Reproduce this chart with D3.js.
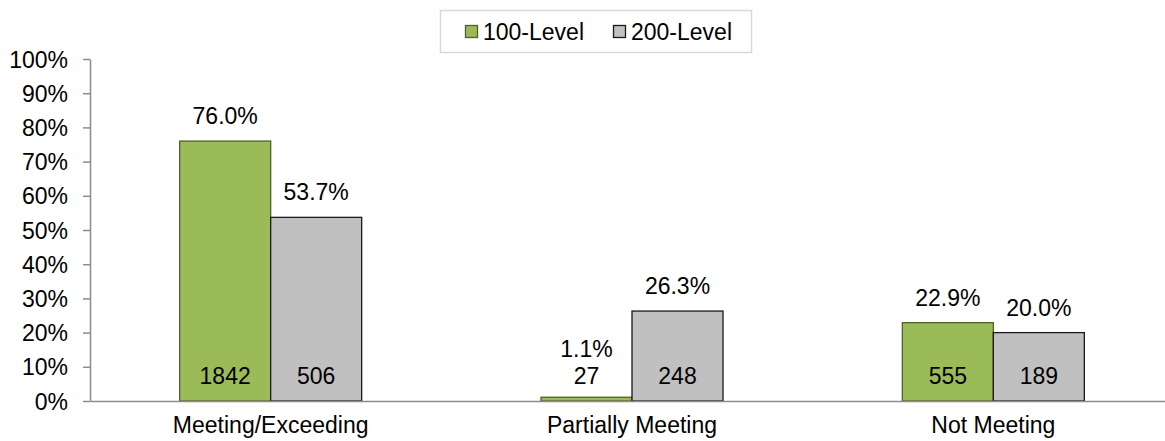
<!DOCTYPE html>
<html>
<head>
<meta charset="utf-8">
<script src="https://cdn.jsdelivr.net/npm/d3@7"></script>
<style>
  html, body { margin: 0; padding: 0; background: #fff; }
  svg text { font-family: "Liberation Sans", Arial, sans-serif; fill: #000; }
</style>
</head>
<body>
<svg id="chart" width="1165" height="441"></svg>
<script>
// Outcome categories and the two course levels
const categories = ["Meeting/Exceeding", "Partially Meeting", "Not Meeting"];
const seriesNames = ["100-Level", "200-Level"];
// Share of students (%) per category
const level100Pct = [76.0, 1.1, 22.9];
const level200Pct = [53.7, 26.3, 20.0];
// Student counts per category
const level100Count = [1842, 27, 555];
const level200Count = [506, 248, 189];
const yTicks = [0, 10, 20, 30, 40, 50, 60, 70, 80, 90, 100];

const fills = ["#9bbb59", "#c0c0c0"];
const strokes = ["#4f6228", "#1a1a1a"];

const svg = d3.select("#chart");
const plotLeft = 90, plotRight = 1174, plotTop = 59, plotBottom = 401;

const x = d3.scaleBand().domain(categories).range([plotLeft, plotRight]).padding(0);
const y = d3.scaleLinear().domain([0, 100]).range([plotBottom, plotTop]);

const rows = categories.map((c, i) => ({
  cat: c,
  items: [
    { s: seriesNames[0], pct: level100Pct[i], n: level100Count[i], k: 0 },
    { s: seriesNames[1], pct: level200Pct[i], n: level200Count[i], k: 1 }
  ]
}));

// Bars with value and count labels
const groups = svg.selectAll("g.cat").data(rows).join("g")
  .attr("class", "cat")
  .attr("transform", d => `translate(${x(d.cat)},0)`);

const barW = 91;
const offset = (x.bandwidth() - 2 * barW) / 2;
const bx = d => offset + d.k * barW;

groups.selectAll("rect").data(d => d.items).join("rect")
  .attr("x", d => bx(d))
  .attr("y", d => y(d.pct))
  .attr("width", barW)
  .attr("height", d => y(0) - y(d.pct))
  .attr("fill", d => fills[d.k])
  .attr("stroke", d => strokes[d.k])
  .attr("stroke-width", 1.3);

const countBase = plotBottom - 17;
groups.selectAll("text.count").data(d => d.items).join("text")
  .attr("class", "count")
  .attr("x", d => bx(d) + barW / 2)
  .attr("y", countBase)
  .attr("text-anchor", "middle")
  .attr("font-size", 23)
  .text(d => d.n);

groups.selectAll("text.pct").data(d => d.items).join("text")
  .attr("class", "pct")
  .attr("x", d => bx(d) + barW / 2)
  .attr("y", d => Math.min(y(d.pct) - 17, countBase - 27))
  .attr("text-anchor", "middle")
  .attr("font-size", 23)
  .text(d => d.pct.toFixed(1) + "%");

// Y axis
const yAxis = svg.append("g")
  .attr("transform", `translate(${plotLeft},0)`)
  .call(d3.axisLeft(y).tickValues(yTicks).tickFormat(d => d + "%").tickSize(7).tickSizeOuter(0));
yAxis.select(".domain").attr("stroke", "#8c8c8c").attr("stroke-width", 1.5);
yAxis.selectAll(".tick line").attr("stroke", "#8c8c8c").attr("stroke-width", 1.5);
yAxis.selectAll(".tick text")
  .attr("x", -22)
  .attr("dy", "0.35em")
  .attr("font-size", 23)
  .attr("font-family", "Liberation Sans, Arial, sans-serif")
  .attr("fill", "#000");

// X axis
const xAxis = svg.append("g")
  .attr("transform", `translate(0,${plotBottom})`)
  .call(d3.axisBottom(x).tickSize(0).tickSizeOuter(0));
xAxis.select(".domain").attr("stroke", "#8c8c8c").attr("stroke-width", 1.5);
xAxis.selectAll(".tick text")
  .attr("y", 32)
  .attr("dy", 0)
  .attr("font-size", 23)
  .attr("font-family", "Liberation Sans, Arial, sans-serif")
  .attr("fill", "#000");

// Legend
const legend = svg.append("g");
legend.append("rect")
  .attr("x", 440.5).attr("y", 10.5).attr("width", 311).attr("height", 42)
  .attr("fill", "#fff").attr("stroke", "#d9d9d9").attr("stroke-width", 1.5);
const legendX = [465, 613];
const li = legend.selectAll("g.item").data(seriesNames).join("g")
  .attr("class", "item")
  .attr("transform", (d, i) => `translate(${legendX[i]},0)`);
li.append("rect")
  .attr("x", 0.5).attr("y", 25.5).attr("width", 12).attr("height", 12)
  .attr("fill", (d, i) => fills[i])
  .attr("stroke", (d, i) => strokes[i])
  .attr("stroke-width", 1.3);
li.append("text")
  .attr("x", 18).attr("y", 39.5)
  .attr("font-size", 23)
  .text(d => d);
</script>
</body>
</html>
